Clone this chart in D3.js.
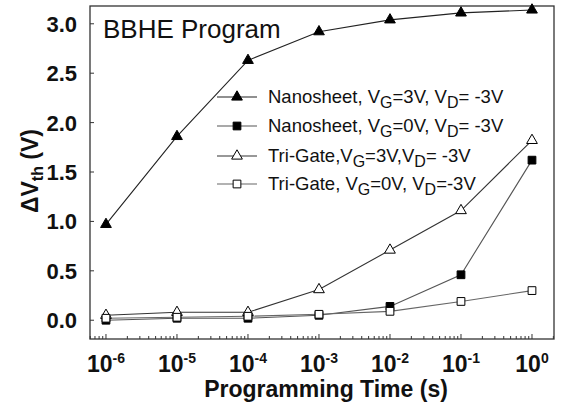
<!DOCTYPE html>
<html>
<head>
<meta charset="utf-8">
<script src="https://cdn.jsdelivr.net/npm/d3@7"></script>
<style>
  html, body { margin: 0; padding: 0; background: #fff; }
  svg { display: block; font-family: "Liberation Sans", Arial, sans-serif; }
</style>
</head>
<body>
<svg id="chart" width="562" height="407"></svg>
<script>
// ---- data ----
const times = [1e-6, 1e-5, 1e-4, 1e-3, 1e-2, 1e-1, 1e0];
const xTickExps = [-6, -5, -4, -3, -2, -1, 0];
const yTicks = [0.0, 0.5, 1.0, 1.5, 2.0, 2.5, 3.0];
const nsVG3 = [0.97, 1.86, 2.63, 2.92, 3.04, 3.11, 3.14];
const nsVG0 = [0.00, 0.02, 0.02, 0.05, 0.14, 0.46, 1.62];
const tgVG3 = [0.05, 0.08, 0.08, 0.31, 0.71, 1.11, 1.82];
const tgVG0 = [0.02, 0.03, 0.04, 0.06, 0.09, 0.19, 0.30];
const seriesNames = [
  ["Nanosheet, V", "G", "=3V, V", "D", "= -3V"],
  ["Nanosheet, V", "G", "=0V, V", "D", "= -3V"],
  ["Tri-Gate,V", "G", "=3V,V", "D", "= -3V"],
  ["Tri-Gate, V", "G", "=0V, V", "D", "=-3V"]
];
const titleText = "BBHE Program";
const xLabel = "Programming Time (s)";

// ---- styles ----
const series = [
  { values: nsVG3, shape: d3.symbolTriangle, fill: "#000", line: "#222" },
  { values: nsVG0, shape: d3.symbolSquare, fill: "#000", line: "#555" },
  { values: tgVG3, shape: d3.symbolTriangle, fill: "#fff", line: "#333" },
  { values: tgVG0, shape: d3.symbolSquare, fill: "#fff", line: "#666" }
];
const symSize = s => s === d3.symbolTriangle ? 50 : 60;

const svg = d3.select("#chart");
svg.append("rect").attr("width", 562).attr("height", 407).attr("fill", "#fff");

const pLeft = 90, pRight = 554, pTop = 6, pBottom = 339;
const x = d3.scaleLog().domain([Math.pow(10, -6.225), Math.pow(10, 0.31)]).range([pLeft, pRight]);
const y = d3.scaleLinear().domain([-0.19, 3.18]).range([pBottom, pTop]);

// frame
svg.append("rect").attr("x", pLeft).attr("y", pTop)
  .attr("width", pRight - pLeft).attr("height", pBottom - pTop)
  .attr("fill", "none").attr("stroke", "#333").attr("stroke-width", 1.3);

// y ticks (inside)
const yAxis = svg.append("g");
yTicks.forEach(v => {
  yAxis.append("line").attr("x1", pLeft).attr("x2", pLeft + 4)
    .attr("y1", y(v)).attr("y2", y(v)).attr("stroke", "#333").attr("stroke-width", 1);
  yAxis.append("text").attr("x", 77).attr("y", y(v)).attr("dy", "0.36em")
    .attr("text-anchor", "end").attr("font-size", 22).attr("font-weight", "bold")
    .attr("fill", "#111").text(d3.format(".1f")(v));
});

// x ticks (inside, minor + major)
const xAxis = svg.append("g");
const [d0, d1] = x.domain();
for (let e = -7; e <= 0; e++) {
  for (let m = 1; m <= 9; m++) {
    const t = m * Math.pow(10, e);
    if (t < d0 || t > d1) continue;
    const len = m === 1 ? 5 : 3;
    xAxis.append("line").attr("x1", x(t)).attr("x2", x(t))
      .attr("y1", pBottom).attr("y2", pBottom - len).attr("stroke", "#333").attr("stroke-width", 1);
  }
}
xTickExps.forEach(e => {
  const t = xAxis.append("text").attr("x", x(Math.pow(10, e))).attr("y", 372)
    .attr("text-anchor", "middle").attr("font-weight", "bold").attr("fill", "#111");
  t.append("tspan").attr("font-size", 23).text("10");
  t.append("tspan").attr("font-size", 14).attr("dy", -9).text(String(e));
});

// axis labels
svg.append("text").attr("x", 326).attr("y", 397).attr("text-anchor", "middle")
  .attr("font-size", 23).attr("font-weight", "bold").attr("fill", "#111").text(xLabel);
const yl = svg.append("text").attr("transform", "translate(38,171) rotate(-90)")
  .attr("text-anchor", "middle").attr("font-weight", "bold").attr("fill", "#111");
yl.append("tspan").attr("font-size", 23).text("\u0394V");
yl.append("tspan").attr("font-size", 16).attr("dy", 5).text("th");
yl.append("tspan").attr("font-size", 23).attr("dy", -5).text(" (V)");

// title
svg.append("text").attr("x", 103).attr("y", 38).attr("font-size", 26)
  .attr("fill", "#111").text(titleText);

// lines
const lineGen = d3.line().x((d, i) => x(times[i])).y(d => y(d));
series.forEach(s => {
  svg.append("path").attr("d", lineGen(s.values)).attr("fill", "none")
    .attr("stroke", s.line).attr("stroke-width", 1.1);
});
// markers
series.forEach(s => {
  const sym = d3.symbol().type(s.shape).size(symSize(s.shape));
  svg.append("g").selectAll("path").data(s.values).join("path")
    .attr("d", sym)
    .attr("transform", (d, i) => `translate(${x(times[i])},${y(d)})`)
    .attr("fill", s.fill).attr("stroke", "#000").attr("stroke-width", 1);
});

// legend
const legY = [97, 126, 156, 184];
series.forEach((s, i) => {
  const g = svg.append("g").attr("transform", `translate(0,${legY[i]})`);
  g.append("line").attr("x1", 217).attr("x2", 257).attr("y1", 0).attr("y2", 0)
    .attr("stroke", s.line).attr("stroke-width", 1.1);
  g.append("path").attr("d", d3.symbol().type(s.shape).size(symSize(s.shape)))
    .attr("transform", "translate(237,0)")
    .attr("fill", s.fill).attr("stroke", "#000").attr("stroke-width", 1);
  const t = g.append("text").attr("x", 268).attr("y", 6).attr("fill", "#111");
  const parts = seriesNames[i];
  t.append("tspan").attr("font-size", 18.5).text(parts[0]);
  t.append("tspan").attr("font-size", 16).attr("dy", 5).text(parts[1]);
  t.append("tspan").attr("font-size", 18.5).attr("dy", -5).text(parts[2]);
  t.append("tspan").attr("font-size", 16).attr("dy", 5).text(parts[3]);
  t.append("tspan").attr("font-size", 18.5).attr("dy", -5).text(parts[4]);
});
</script>
</body>
</html>
